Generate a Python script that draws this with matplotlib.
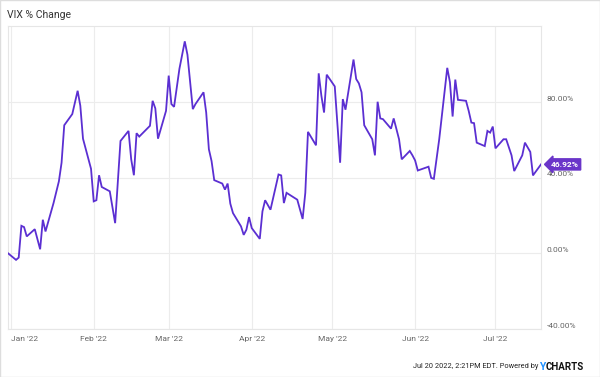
import matplotlib
matplotlib.use("Agg")
import matplotlib.pyplot as plt
import matplotlib.transforms as mtransforms
import numpy as np
import pandas as pd

dates = [
    "2021-12-31", "2022-01-03", "2022-01-04", "2022-01-05", "2022-01-06", "2022-01-07",
    "2022-01-10", "2022-01-12", "2022-01-13", "2022-01-14", "2022-01-17", "2022-01-19",
    "2022-01-20", "2022-01-21", "2022-01-24", "2022-01-26", "2022-01-27", "2022-01-28",
    "2022-01-31", "2022-02-01", "2022-02-02", "2022-02-03", "2022-02-04", "2022-02-07",
    "2022-02-09", "2022-02-11", "2022-02-14", "2022-02-15", "2022-02-16", "2022-02-17",
    "2022-02-18", "2022-02-22", "2022-02-23", "2022-02-24", "2022-02-25", "2022-02-28",
    "2022-03-01", "2022-03-02", "2022-03-03", "2022-03-05", "2022-03-07", "2022-03-08",
    "2022-03-10", "2022-03-11", "2022-03-14", "2022-03-15", "2022-03-16", "2022-03-17",
    "2022-03-18", "2022-03-21", "2022-03-22", "2022-03-23", "2022-03-24", "2022-03-25",
    "2022-03-28", "2022-03-29", "2022-03-30", "2022-03-31", "2022-04-01", "2022-04-04",
    "2022-04-05", "2022-04-06", "2022-04-08", "2022-04-11", "2022-04-12", "2022-04-13",
    "2022-04-14", "2022-04-18", "2022-04-20", "2022-04-21", "2022-04-22", "2022-04-25",
    "2022-04-26", "2022-04-27", "2022-04-28", "2022-04-29", "2022-05-02", "2022-05-04",
    "2022-05-05", "2022-05-06", "2022-05-09", "2022-05-10", "2022-05-11", "2022-05-12",
    "2022-05-13", "2022-05-16", "2022-05-17", "2022-05-18", "2022-05-19", "2022-05-20",
    "2022-05-23", "2022-05-24", "2022-05-26", "2022-05-27", "2022-05-30", "2022-05-31",
    "2022-06-01", "2022-06-02", "2022-06-06", "2022-06-07", "2022-06-08", "2022-06-10",
    "2022-06-13", "2022-06-14", "2022-06-15", "2022-06-16", "2022-06-17", "2022-06-20",
    "2022-06-21", "2022-06-22", "2022-06-23", "2022-06-24", "2022-06-27", "2022-06-28",
    "2022-06-29", "2022-06-30", "2022-07-01", "2022-07-04", "2022-07-05", "2022-07-07",
    "2022-07-08", "2022-07-11", "2022-07-12", "2022-07-14", "2022-07-15", "2022-07-18",
]
vix_change = [
    0.0, -3.5, -2.3, 14.5, 13.8, 8.9,
    12.7, 2.1, 17.7, 11.5, 26.5, 38.0,
    47.8, 67.6, 73.5, 85.8, 77.9, 60.5,
    44.6, 27.4, 28.0, 41.2, 35.0, 32.7,
    15.9, 59.3, 64.6, 49.6, 41.2, 63.4,
    61.6, 67.3, 80.5, 76.5, 60.5, 75.2,
    93.8, 78.8, 77.3, 97.4, 111.9, 104.8,
    76.1, 78.8, 85.0, 74.3, 54.9, 48.7,
    38.6, 36.8, 33.6, 36.8, 26.2, 21.2,
    14.2, 9.7, 12.4, 19.1, 13.3, 7.6,
    22.1, 28.0, 23.0, 41.6, 41.1, 26.5,
    31.9, 28.3, 18.1, 31.9, 64.1, 57.0,
    95.0, 83.2, 74.3, 94.3, 88.1, 47.8,
    81.4, 75.8, 102.3, 92.0, 89.7, 85.0,
    67.6, 60.2, 51.7, 80.0, 71.2, 70.8,
    65.8, 71.2, 60.2, 49.6, 54.0, 51.7,
    49.0, 43.7, 45.7, 39.8, 39.3, 60.2,
    97.9, 90.3, 72.2, 91.7, 81.0, 80.5,
    75.2, 69.0, 68.7, 58.4, 56.6, 64.6,
    63.7, 66.9, 55.4, 60.2, 60.2, 51.7,
    43.4, 51.7, 58.4, 53.5, 41.1, 46.92,
]
y_ticks = [-40, 0, 40, 80]
month_ticks = ["2022-01-01", "2022-02-01", "2022-03-01", "2022-04-01",
               "2022-05-01", "2022-06-01", "2022-07-01"]
month_labels = ["Jan '22", "Feb '22", "Mar '22", "Apr '22", "May '22", "Jun '22", "Jul '22"]
title = "VIX % Change"
footer = "Jul 20 2022, 2:21PM EDT. Powered by"

plt.rcParams['font.family'] = ['Roboto', 'DejaVu Sans']

x = pd.to_datetime(dates)
line_color = "#5b2fd2"
grid_color = "#ececec"
text_color = "#666666"

fig = plt.figure(figsize=(6.0, 3.77), dpi=100)
ax = fig.add_axes([8/600, 1 - 329/377, 533/600, 303/377])

ax.plot(x, vix_change, color=line_color, lw=1.3, solid_joinstyle='miter', zorder=3)
ax.set_xlim(x[0], x[-1])
ax.set_ylim(-40, 120)

ax.set_yticks(y_ticks)
ax.set_yticklabels([f"{v:.2f}%" for v in y_ticks])
ax.yaxis.tick_right()
mt = pd.to_datetime(month_ticks)
ax.set_xticks(mt)
ax.set_xticklabels(month_labels)
ax.tick_params(axis='both', length=0, labelsize=6, colors=text_color)
ax.tick_params(axis='y', pad=4)
ax.tick_params(axis='x', pad=5)
up = mtransforms.ScaledTranslation(0, 3/100, fig.dpi_scale_trans)
for lab in ax.get_yticklabels():
    lab.set_verticalalignment('center')
    lab.set_transform(lab.get_transform() + up)
ax.get_xticklabels()[0].set_horizontalalignment('left')

ax.grid(True, color=grid_color, lw=0.8, zorder=0)
for s in ax.spines.values():
    s.set_color("#e6e6e6")
    s.set_linewidth(0.8)

# end value label
ax.annotate(f"{vix_change[-1]:.2f}%", xy=(x[-1], vix_change[-1]), xycoords='data',
            xytext=(7, 0), textcoords='offset points', ha='left', va='center',
            fontsize=6, fontweight='bold', color='white',
            bbox=dict(boxstyle='larrow,pad=0.25', fc="#6a35c9", ec="#6a35c9"),
            annotation_clip=False, zorder=5)

fig.text(7/600, 1 - 15/377, title, fontsize=7.5, color="#333333", ha='left', va='center')
fig.text(538/600, 1 - 367/377, footer, fontsize=5.3, color="#222222", ha='right', va='center')
fig.text(539/600, 1 - 367/377, "Y", fontsize=7.5, color="#1e90ff", ha='left', va='center',
         fontweight='bold')
fig.text(546/600, 1 - 367/377, "CHARTS", fontsize=7, color="#111111", ha='left', va='center',
         fontweight='bold')

fig.patches.append(plt.Rectangle((0, 0), 1, 1, transform=fig.transFigure, fill=False,
                                 ec="#dddddd", lw=1.0))

fig.savefig("out.png", dpi=100)
